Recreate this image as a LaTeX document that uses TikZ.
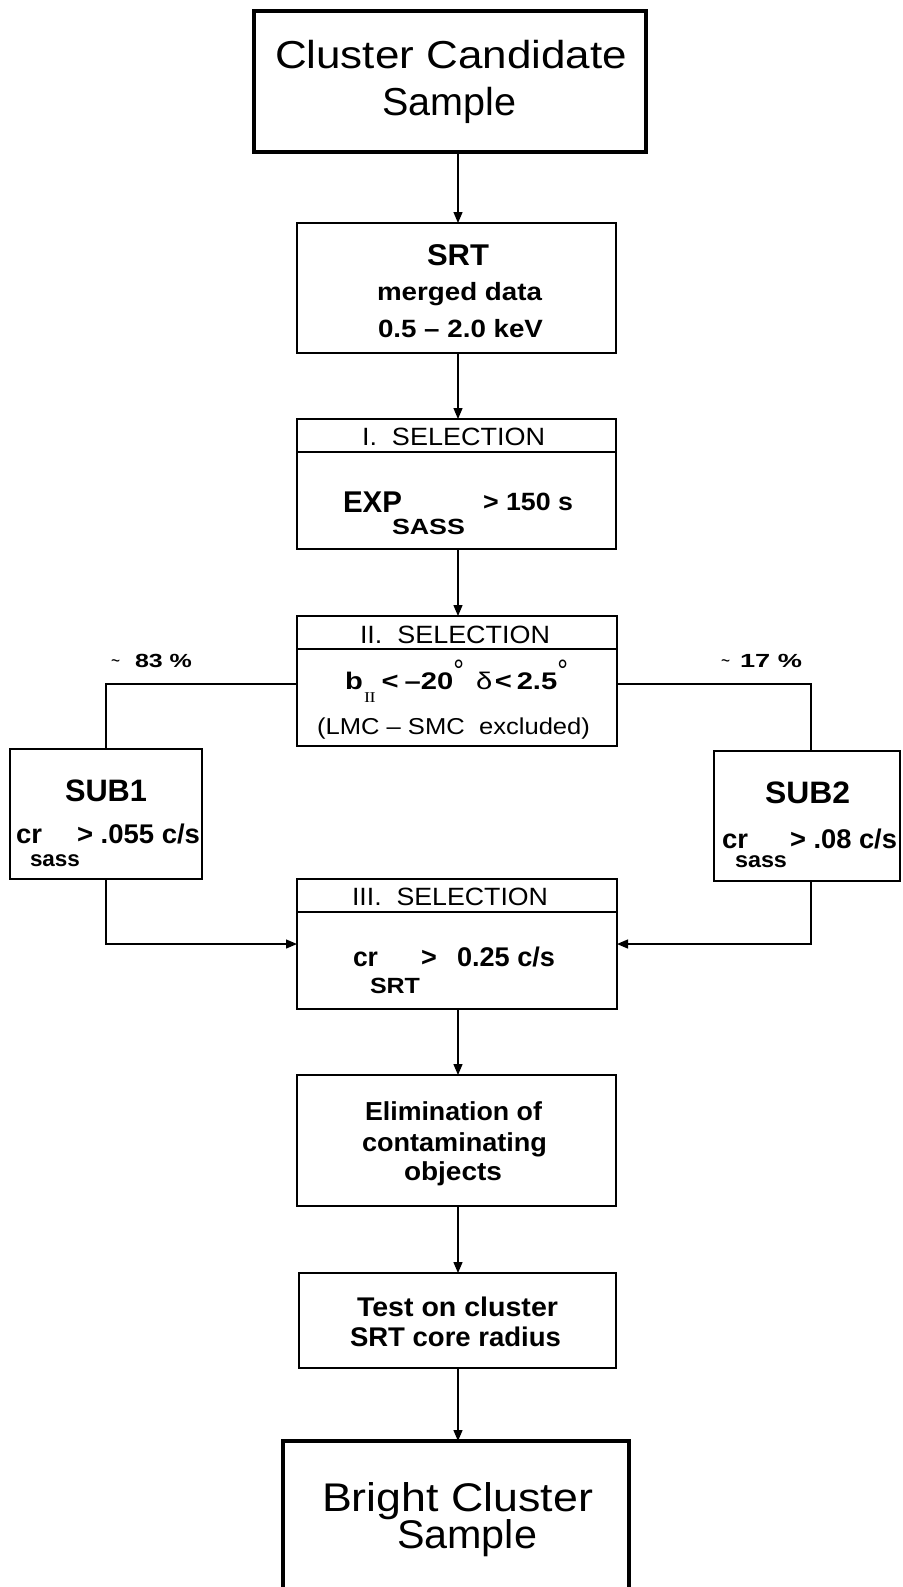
\documentclass[tikz,border=0pt]{standalone}
\usepackage{fontspec}
\setmainfont{Liberation Sans}
\newfontfamily\serifII{Liberation Serif}
\usepackage{graphicx}
\usetikzlibrary{arrows.meta}
\newcommand\txt[4]{\fontsize{#1}{#1}\selectfont#2\resizebox{#3pt}{\height}{#4}}
\newcommand\degr{\raisebox{8pt}{\mdseries\fontsize{22}{22}\selectfont\scalebox{1}[1.4]{°}}}
\newcommand\tld{\symbol{"007E}}
\begin{document}
\begin{tikzpicture}[x=1pt,y=-1pt,
  box/.style={draw, line width=1.5pt, inner sep=0pt, outer sep=0pt, anchor=north west},
  bigbox/.style={box, line width=4pt},
  lbl/.style={anchor=base west, inner sep=0pt, outer sep=0pt},
  conn/.style={line width=1.3pt},
  arr/.style={conn, -{Triangle[length=11pt,width=9pt]}}]
\fill[white] (0,0) rectangle (902,1587);
\useasboundingbox (0,0) rectangle (902,1587);

% boxes
\node[bigbox, minimum width=392pt, minimum height=140.5pt] (cand) at (254,11.5) {};
\node[box, minimum width=319pt, minimum height=130pt] (srt) at (297,223) {};
\node[box, minimum width=319pt, minimum height=130pt] (sel1) at (297,419) {};
\node[box, minimum width=320pt, minimum height=130pt] (sel2) at (297,616) {};
\node[box, minimum width=192pt, minimum height=130pt] (sub1) at (10,749) {};
\node[box, minimum width=186pt, minimum height=130pt] (sub2) at (714,751) {};
\node[box, minimum width=320pt, minimum height=130pt] (sel3) at (297,879) {};
\node[box, minimum width=319pt, minimum height=131pt] (elim) at (297,1075) {};
\node[box, minimum width=317pt, minimum height=95pt] (test) at (299,1273) {};
\node[bigbox, minimum width=346pt, minimum height=200pt] (bright) at (283,1441) {};

% header separators
\foreach \b in {sel1,sel2,sel3}
  \draw[line width=1.5pt] ([yshift=-33pt]\b.north west) -- ([yshift=-33pt]\b.north east);

% connectors
\coordinate (ax) at (458,0);
\coordinate (br) at (0,684);
\coordinate (v2) at (811,0);
\draw[arr] (cand.south -| ax) -- (srt.north -| ax);
\draw[arr] (srt.south -| ax) -- (sel1.north -| ax);
\draw[arr] (sel1.south -| ax) -- (sel2.north -| ax);
\draw[conn] (sel2.west |- br) -| (sub1.north);
\draw[conn] (sel2.east |- br) -| (sub2.north -| v2);
\draw[arr] (sub1.south) |- (sel3.west);
\draw[arr] (sub2.south -| v2) |- (sel3.east);
\draw[arr] (sel3.south -| ax) -- (elim.north -| ax);
\draw[arr] (elim.south -| ax) -- (test.north -| ax);
\draw[arr] (test.south -| ax) -- (bright.north -| ax);

% title
\node[lbl] (t1) at (275,68) {\txt{39}{}{352}{Cluster Candidate}};
\node[lbl] (t2) at (382,115) {\txt{39}{}{134}{Sample}};

% SRT
\node[lbl] (s1) at (427,265) {\txt{30}{\bfseries}{62}{SRT}};
\node[lbl] (s2) at (377,300) {\txt{25}{\bfseries}{165}{merged data}};
\node[lbl] (s3) at (378,337) {\txt{25}{\bfseries}{165}{0.5 – 2.0 keV}};

% selection I
\node[lbl] (h1) at (362,445) {\txt{25}{}{183}{I.\ \ SELECTION}};
\node[lbl] (e1) at (343,512) {\txt{30}{\bfseries}{59}{EXP}};
\node[lbl] (e2) at (392,534) {\txt{22}{\bfseries}{73}{SASS}};
\node[lbl] (e3) at (483,510) {\txt{25}{\bfseries}{90}{> 150 s}};

% selection II
\node[lbl] (h2) at (360,643) {\txt{25}{}{190}{II.\ \ SELECTION}};
\node[lbl] (b1) at (345,689) {\txt{24}{\bfseries}{223}{b\hspace{1pt}\raisebox{-13pt}{\serifII\mdseries\fontsize{15}{15}\selectfont I\kern-0.5pt I}\hspace{5pt}<\hspace{5pt}–20\degr\hspace{10pt}{\mdseries δ}\hspace{2pt}<\hspace{4pt}2.5\degr}};
\node[lbl] (l1) at (317,734) {\txt{23}{}{273}{(LMC – SMC\ \ excluded)}};

% branch labels
\node[lbl] (p1) at (111,667) {\txt{20}{}{9}{\tld}};
\node[lbl] (p2) at (135,667) {\txt{19}{\bfseries}{57}{83 \%}};
\node[lbl] (p3) at (721,667) {\txt{20}{}{9}{\tld}};
\node[lbl] (p4) at (740,667) {\txt{19}{\bfseries}{62}{17 \%}};

% SUB1
\node[lbl] (u1) at (65,801) {\txt{31}{\bfseries}{82}{SUB1}};
\node[lbl] (u2) at (16,843) {\txt{27}{\bfseries}{26}{cr}};
\node[lbl] (u3) at (77,843) {\txt{27}{\bfseries}{123}{> .055 c/s}};
\node[lbl] (u4) at (30,866) {\txt{22}{\bfseries}{50}{sass}};

% SUB2
\node[lbl] (w1) at (765,803) {\txt{31}{\bfseries}{85}{SUB2}};
\node[lbl] (w2) at (722,848) {\txt{27}{\bfseries}{26}{cr}};
\node[lbl] (w3) at (790,848) {\txt{27}{\bfseries}{107}{> .08 c/s}};
\node[lbl] (w4) at (735,867) {\txt{22}{\bfseries}{52}{sass}};

% selection III
\node[lbl] (h3) at (352,905) {\txt{25}{}{196}{III.\ \ SELECTION}};
\node[lbl] (c1) at (353,966) {\txt{27}{\bfseries}{25}{cr}};
\node[lbl] (c2) at (421,966) {\fontsize{27}{27}\selectfont\bfseries >};
\node[lbl] (c3) at (457,966) {\txt{27}{\bfseries}{98}{0.25 c/s}};
\node[lbl] (c4) at (370,993) {\txt{22}{\bfseries}{50}{SRT}};

% elimination
\node[lbl] (m1) at (365,1120) {\txt{26}{\bfseries}{177}{Elimination of}};
\node[lbl] (m2) at (362,1151) {\txt{26}{\bfseries}{185}{contaminating}};
\node[lbl] (m3) at (404,1180) {\txt{26}{\bfseries}{98}{objects}};

% test
\node[lbl] (n1) at (357,1316) {\txt{27}{\bfseries}{201}{Test on cluster}};
\node[lbl] (n2) at (350,1346) {\txt{27}{\bfseries}{211}{SRT core radius}};

% bright
\node[lbl] (r1) at (322,1511) {\txt{40}{}{271}{Bright Cluster}};
\node[lbl] (r2) at (397,1548) {\txt{40}{}{140}{Sample}};
\end{tikzpicture}
\end{document}
